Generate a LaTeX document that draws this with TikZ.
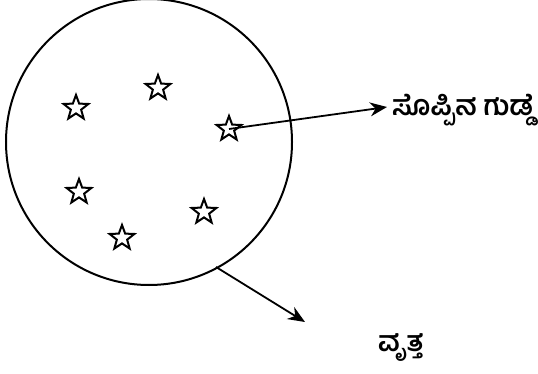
\documentclass[tikz,border=0pt]{standalone}
\usepackage{fontspec}
\newfontfamily\kannada[Script=Kannada]{Hind Mysuru SemiBold}
\usetikzlibrary{shapes.geometric,arrows.meta}
\begin{document}
\begin{tikzpicture}[x=1pt,y=-1pt,
  starnode/.style={star,star points=5,star point ratio=2.4,draw,line width=2pt,minimum size=26pt,inner sep=0pt},
  arr/.style={line width=1.8pt,-{Stealth[length=17pt,width=14pt]}},
  lbl/.style={font=\kannada\fontsize{28}{31}\selectfont,anchor=west,inner sep=0pt}]
\useasboundingbox (0,0) rectangle (538,374);
\node[circle,draw,line width=2pt,minimum size=286pt,inner sep=0pt] (c) at (149,142) {};
\node[starnode] (s1) at (76,108) {};
\node[starnode] (s2) at (158,88) {};
\node[starnode] (s3) at (229,129) {};
\node[starnode] (s4) at (79,192) {};
\node[starnode] (s5) at (204,212) {};
\node[starnode] (s6) at (122,238) {};
\node[lbl] (t1) at (392,110) {ಸೊಪ್ಪಿನ ಗುಡ್ಡೆ};
\node[lbl] (t2) at (378,348) {ವೃತ್ತ};
\coordinate (a2) at (216,267);
\coordinate (e1) at (387,107);
\coordinate (e2) at (305,322);
\draw[arr] (s3.center) -- (e1);
\draw[arr] (a2) -- (e2);
\end{tikzpicture}
\end{document}
